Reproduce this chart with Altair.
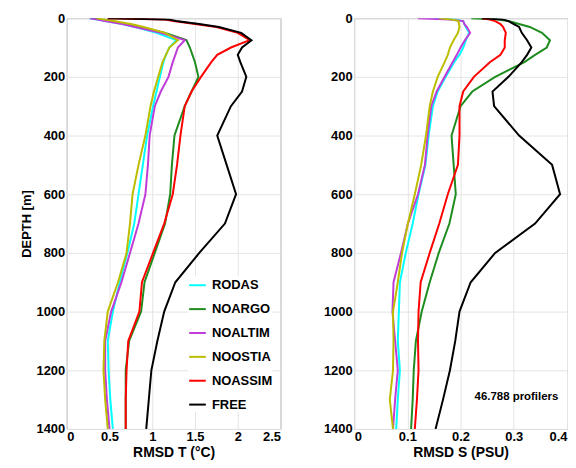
import altair as alt
import pandas as pd

depth = [0, 5, 10, 20, 30, 50, 75, 100, 125, 150, 200, 250, 300, 400, 500, 600, 700, 800, 900, 1000, 1100, 1200, 1300, 1400]
series = ["RODAS", "NOARGO", "NOALTIM", "NOOSTIA", "NOASSIM", "FREE"]
colors = ["#00FFFF", "#1E8C1E", "#C03CD8", "#BDBD00", "#FF0000", "#000000"]

# RMSD temperature (degC)
t_rodas   = [0.27, 0.36, 0.45, 0.65, 0.80, 1.05, 1.28, 1.20, 1.16, 1.13, 1.09, 1.05, 1.01, 0.94, 0.89, 0.84, 0.79, 0.71, 0.62, 0.54, 0.48, 0.49, 0.51, 0.54]
t_noargo  = [0.30, 0.40, 0.50, 0.70, 0.85, 1.15, 1.40, 1.44, 1.47, 1.50, 1.54, 1.46, 1.38, 1.26, 1.23, 1.21, 1.15, 1.03, 0.91, 0.87, 0.73, 0.69, 0.69, 0.69]
t_noaltim = [0.27, 0.36, 0.45, 0.65, 0.80, 1.10, 1.38, 1.30, 1.27, 1.24, 1.19, 1.10, 1.03, 0.97, 0.95, 0.92, 0.84, 0.74, 0.64, 0.52, 0.45, 0.45, 0.47, 0.50]
t_noostia = [0.35, 0.45, 0.55, 0.75, 0.90, 1.15, 1.30, 1.20, 1.16, 1.12, 1.07, 1.02, 0.98, 0.92, 0.84, 0.77, 0.74, 0.70, 0.60, 0.48, 0.44, 0.43, 0.45, 0.48]
t_noassim = [0.48, 1.15, 1.25, 1.50, 1.75, 2.00, 2.14, 1.92, 1.76, 1.69, 1.57, 1.46, 1.38, 1.33, 1.29, 1.24, 1.14, 1.01, 0.88, 0.85, 0.72, 0.70, 0.69, 0.69]
t_free    = [0.48, 1.20, 1.28, 1.55, 1.78, 2.04, 2.16, 2.05, 2.00, 2.03, 2.10, 2.05, 1.92, 1.76, 1.87, 1.98, 1.85, 1.55, 1.27, 1.14, 1.06, 0.99, 0.96, 0.93]

# RMSD salinity (PSU)
s_rodas   = [0.15, 0.19, 0.205, 0.207, 0.21, 0.216, 0.21, 0.205, 0.198, 0.188, 0.172, 0.157, 0.148, 0.140, 0.134, 0.121, 0.110, 0.097, 0.086, 0.084, 0.082, 0.086, 0.082, 0.079]
s_noargo  = [0.22, 0.27, 0.29, 0.31, 0.33, 0.353, 0.368, 0.362, 0.34, 0.32, 0.265, 0.222, 0.200, 0.183, 0.187, 0.191, 0.179, 0.159, 0.142, 0.127, 0.116, 0.112, 0.110, 0.107]
s_noaltim = [0.12, 0.18, 0.205, 0.207, 0.212, 0.218, 0.208, 0.200, 0.193, 0.185, 0.170, 0.155, 0.145, 0.138, 0.133, 0.120, 0.101, 0.088, 0.074, 0.072, 0.077, 0.082, 0.077, 0.073]
s_noostia = [0.16, 0.185, 0.196, 0.197, 0.198, 0.195, 0.187, 0.180, 0.176, 0.170, 0.157, 0.148, 0.142, 0.135, 0.126, 0.114, 0.101, 0.090, 0.082, 0.073, 0.074, 0.073, 0.067, 0.073]
s_noassim = [0.24, 0.255, 0.265, 0.275, 0.28, 0.285, 0.283, 0.283, 0.275, 0.255, 0.225, 0.205, 0.198, 0.198, 0.195, 0.176, 0.160, 0.142, 0.125, 0.121, 0.120, 0.121, 0.118, 0.114]
s_free    = [0.24, 0.28, 0.29, 0.30, 0.31, 0.315, 0.325, 0.333, 0.325, 0.315, 0.290, 0.260, 0.263, 0.310, 0.372, 0.387, 0.340, 0.265, 0.219, 0.198, 0.190, 0.180, 0.167, 0.153]

t_vals = [t_rodas, t_noargo, t_noaltim, t_noostia, t_noassim, t_free]
s_vals = [s_rodas, s_noargo, s_noaltim, s_noostia, s_noassim, s_free]

rows = []
for name, tv, sv in zip(series, t_vals, s_vals):
    for i, d in enumerate(depth):
        rows.append({"exp": name, "depth": d, "T": tv[i], "S": sv[i], "ord": i})
df = pd.DataFrame(rows)

note = pd.DataFrame({"x": [0.305], "y": [1292], "label": ["46.788 profilers"]})

FONT = "Liberation Sans"
color_scale = alt.Scale(domain=series, range=colors)


def yaxis(title):
    return alt.Axis(values=list(range(0, 1401, 200)), format="d", labelFontWeight="bold", labelFontSize=13,
                    labelColor="#000", tickSize=0, labelPadding=2, domain=False,
                    gridColor="#e4e4e4", titleFontWeight="bold", titleFontSize=13, titleColor="#000",
                    titlePadding=2, title=title)


def xaxis(title, vals):
    return alt.Axis(values=vals, format="~g", title=title, labelFontWeight="bold",
                    labelFontSize=13, labelColor="#000", tickSize=0, labelPadding=2, domain=False,
                    gridColor="#e4e4e4", titleFontWeight="bold", titleFontSize=14, titleColor="#000",
                    titlePadding=2)


left = alt.Chart(df).mark_line(strokeWidth=2, clip=True).encode(
    x=alt.X("T:Q", scale=alt.Scale(domain=[0, 2.5], nice=False),
            axis=xaxis("RMSD T (°C)", [0, 0.5, 1, 1.5, 2, 2.5])),
    y=alt.Y("depth:Q", scale=alt.Scale(domain=[0, 1400], reverse=True, nice=False),
            axis=yaxis("DEPTH [m]")),
    color=alt.Color("exp:N", scale=color_scale, sort=series,
                    legend=alt.Legend(title=None, orient="none", legendX=122, legendY=259,
                                      symbolType="stroke", symbolStrokeWidth=2, symbolSize=280,
                                      labelFontSize=13, labelFontWeight="bold", labelColor="#000",
                                      labelFont=FONT, rowPadding=7, padding=0, fillColor="white",
                                      labelOffset=5)),
    order="ord:Q",
).properties(width=215, height=413)

right_lines = alt.Chart(df).mark_line(strokeWidth=2, clip=True).encode(
    x=alt.X("S:Q", scale=alt.Scale(domain=[0, 0.4], nice=False),
            axis=xaxis("RMSD S (PSU)", [0, 0.1, 0.2, 0.3, 0.4])),
    y=alt.Y("depth:Q", scale=alt.Scale(domain=[0, 1400], reverse=True, nice=False),
            axis=yaxis("")),
    color=alt.Color("exp:N", scale=color_scale, sort=series, legend=None),
    order="ord:Q",
)

right_text = alt.Chart(note).mark_text(font=FONT, fontSize=11.5, fontWeight="bold", color="#000").encode(
    x="x:Q", y="y:Q", text="label:N")

right = alt.layer(right_lines, right_text).properties(width=214, height=413)

chart = alt.hconcat(left, right, spacing=41).resolve_scale(color="independent").configure(
    font=FONT, padding={"left": 12, "top": 2, "right": 0, "bottom": 0}
).configure_view(stroke="#9a9a9a", strokeWidth=1)

chart.save("out.html", embed_options={"renderer": "svg", "actions": False})
